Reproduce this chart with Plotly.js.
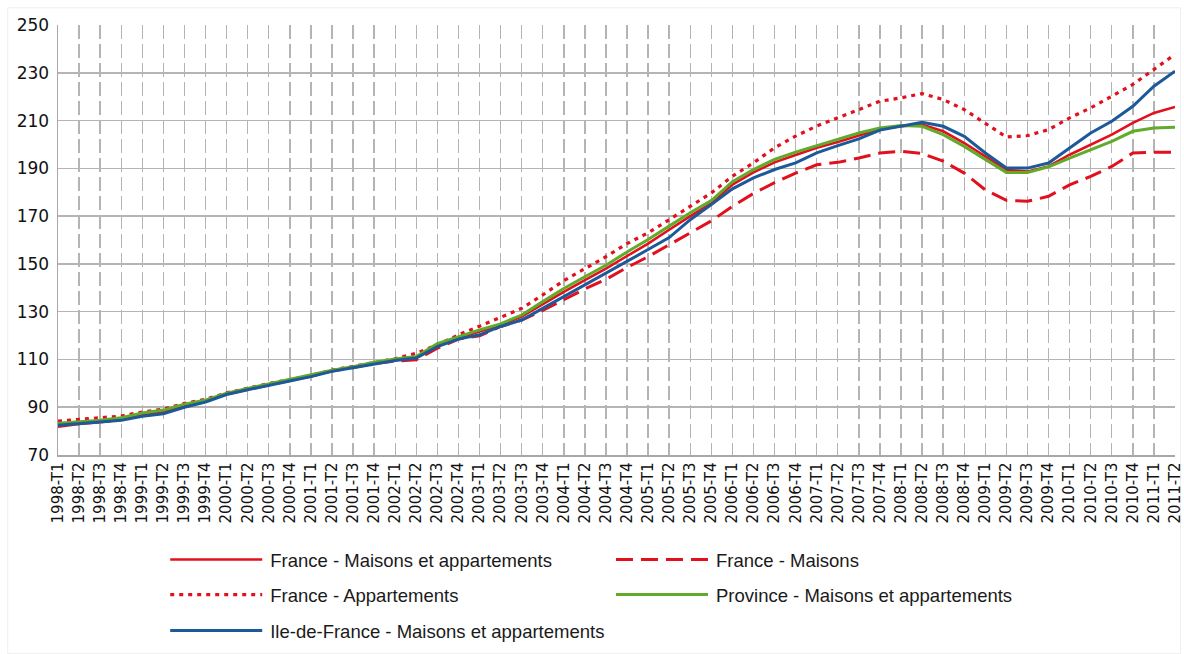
<!DOCTYPE html>
<html>
<head>
<meta charset="utf-8">
<script src="https://cdn.plot.ly/plotly-3.0.1.min.js"></script>
<style>
  html, body { margin: 0; padding: 0; background: #ffffff; }
  #chart { width: 1184px; height: 654px; }
</style>
</head>
<body>
<div id="chart"></div>
<script>
// Quarters 1998-T1 .. 2011-T2
const years = [1998,1999,2000,2001,2002,2003,2004,2005,2006,2007,2008,2009,2010,2011];
const quarters = [];
years.forEach(y => { ['T1','T2','T3','T4'].forEach(q => { if (!(y === 2011 && (q === 'T3' || q === 'T4'))) quarters.push(y + '-' + q); }); });

const franceMaisonsAppartements = [
  81.8, 83.0, 83.7, 84.8, 86.8, 88.0, 90.8, 92.7, 95.6, 97.6,
  99.6, 101.3, 103.0, 105.3, 106.8, 108.5, 109.8, 110.8, 115.6, 119.0,
  121.7, 124.4, 127.9, 133.2, 138.3, 143.2, 148.0, 153.3, 158.5, 164.3,
  170.0, 175.3, 183.2, 188.3, 192.5, 195.6, 198.6, 201.0, 203.7, 206.5,
  207.6, 208.3, 205.5, 200.6, 195.0, 189.4, 188.7, 190.8, 195.7, 199.9,
  204.1, 209.0, 213.2, 215.7
];
const franceMaisons = [
  82.8, 83.6, 84.0, 85.0, 86.8, 88.2, 90.8, 92.7, 95.5, 97.5,
  99.5, 101.2, 103.0, 105.2, 106.6, 108.3, 109.3, 109.9, 114.7, 118.5,
  119.9, 123.8, 126.5, 130.5, 135.0, 139.5, 143.5, 148.5, 153.0, 158.0,
  163.0, 168.0, 174.1, 179.5, 184.0, 188.0, 191.5, 192.5, 194.3, 196.4,
  197.1, 196.2, 193.0, 188.0, 181.0, 176.6, 176.2, 178.3, 183.1, 186.6,
  190.8, 196.4, 196.7, 196.7
];
const franceAppartements = [
  84.2, 84.9, 85.3, 86.3, 88.0, 89.2, 91.6, 93.3, 96.0, 98.0,
  99.9, 101.6, 103.3, 105.5, 107.0, 108.8, 110.3, 112.6, 116.1, 120.3,
  123.8, 127.6, 131.4, 137.0, 143.0, 148.0, 153.0, 158.5, 163.0, 168.5,
  174.2, 179.7, 186.7, 192.3, 198.6, 203.5, 207.7, 211.3, 214.6, 218.1,
  219.5, 221.3, 218.8, 214.6, 209.0, 203.1, 203.7, 206.2, 211.1, 215.3,
  220.2, 225.1, 231.4, 237.7
];
const provinceMaisonsAppartements = [
  83.3, 84.0, 84.5, 85.6, 87.6, 88.8, 91.3, 93.0, 95.9, 97.9,
  99.8, 101.5, 103.3, 105.5, 107.0, 108.8, 110.2, 111.2, 116.6, 119.6,
  122.4, 124.9, 128.6, 134.2, 139.7, 144.6, 149.4, 155.0, 160.2, 165.8,
  171.4, 176.5, 184.4, 189.5, 193.7, 196.8, 199.5, 202.2, 204.8, 206.9,
  207.9, 207.6, 204.1, 199.2, 193.6, 188.3, 188.3, 190.6, 194.3, 197.8,
  201.3, 205.5, 206.9, 207.2
];
const ileDeFranceMaisonsAppartements = [
  82.5, 83.3, 83.8, 84.5, 86.2, 87.3, 90.0, 92.2, 95.3, 97.3,
  99.3, 101.0, 102.8, 105.0, 106.5, 108.2, 109.6, 110.6, 115.4, 118.5,
  120.3, 123.8, 126.5, 131.4, 136.3, 141.1, 146.0, 150.8, 156.0, 161.0,
  168.5, 174.8, 181.4, 186.0, 189.5, 192.3, 196.5, 199.5, 202.3, 206.0,
  207.6, 209.3, 207.6, 203.4, 196.4, 190.1, 190.1, 192.2, 198.5, 204.8,
  209.7, 216.0, 224.4, 230.7
];
const yTicks = [70, 90, 110, 130, 150, 170, 190, 210, 230, 250];

const RED = '#e2101c', GREEN = '#62aa2a', BLUE = '#1c5999';

const traces = [
  { name: 'France - Maisons et appartements', y: franceMaisonsAppartements,
    line: { color: RED, width: 2.6 }, legend: 'legend' },
  { name: 'France - Maisons', y: franceMaisons,
    line: { color: RED, width: 3, dash: '17px,8px' }, legend: 'legend2' },
  { name: 'France - Appartements', y: franceAppartements,
    line: { color: RED, width: 3.2, dash: '4px,5px' }, legend: 'legend3' },
  { name: 'Province - Maisons et appartements', y: provinceMaisonsAppartements,
    line: { color: GREEN, width: 3 }, legend: 'legend4' },
  { name: 'Ile-de-France - Maisons et appartements', y: ileDeFranceMaisonsAppartements,
    line: { color: BLUE, width: 3 }, legend: 'legend5' }
].map(t => Object.assign({ type: 'scatter', mode: 'lines', x: quarters, hoverinfo: 'skip' }, t));

const legendBase = {
  orientation: 'v', xanchor: 'left', yanchor: 'middle', itemwidth: 98,
  xref: 'container', yref: 'container',
  font: { family: 'Liberation Sans, Arial, sans-serif', size: 18.5, color: '#1a1a1a' },
  bgcolor: 'rgba(0,0,0,0)', borderwidth: 0
};
const col1 = 0.137, col2 = 0.5135;
const row1 = 0.1437, row2 = 0.0902, row3 = 0.0352;

const layout = {
  width: 1184, height: 654,
  margin: { l: 58, r: 9, t: 25, b: 199, autoexpand: false },
  paper_bgcolor: '#ffffff', plot_bgcolor: '#ffffff',
  showlegend: true,
  legend:  Object.assign({}, legendBase, { x: col1, y: row1 }),
  legend2: Object.assign({}, legendBase, { x: col2, y: row1 }),
  legend3: Object.assign({}, legendBase, { x: col1, y: row2 }),
  legend4: Object.assign({}, legendBase, { x: col2, y: row2 }),
  legend5: Object.assign({}, legendBase, { x: col1, y: row3 }),
  xaxis: {
    type: 'category', range: [0, quarters.length - 1],
    tickangle: -90, tickfont: { family: 'DejaVu Sans, Verdana, sans-serif', size: 15, color: '#111' },
    showgrid: true, gridcolor: '#b4b4b4', gridwidth: 1.4, griddash: '14px,5px',
    showline: true, linecolor: '#a8a8a8', linewidth: 1.5,
    ticks: '', ticklen: 0, zeroline: false, fixedrange: true, automargin: false
  },
  yaxis: {
    range: [70, 250], tickvals: yTicks, ticktext: yTicks.map(String),
    tickfont: { family: 'DejaVu Sans, Verdana, sans-serif', size: 17, color: '#111' },
    showgrid: true, gridcolor: '#b4b4b4', gridwidth: 1.5,
    showline: true, linecolor: '#a8a8a8', linewidth: 1.5,
    ticks: '', zeroline: false, fixedrange: true, ticklabelstandoff: 4, automargin: false
  },
  shapes: [
    { type: 'rect', xref: 'paper', yref: 'paper', x0: -0.045, x1: 1.005, y0: -0.462, y1: 1.04,
      line: { color: '#eeeeee', width: 1 }, fillcolor: 'rgba(0,0,0,0)', layer: 'below' }
  ]
};

Plotly.newPlot('chart', traces, layout, { displayModeBar: false, staticPlot: true }).then(() => {
  // lengthen legend line samples to match the reference
  document.querySelectorAll('g.legendlines path').forEach(p => p.setAttribute('d', 'M8,0h92'));
});
</script>
</body>
</html>
